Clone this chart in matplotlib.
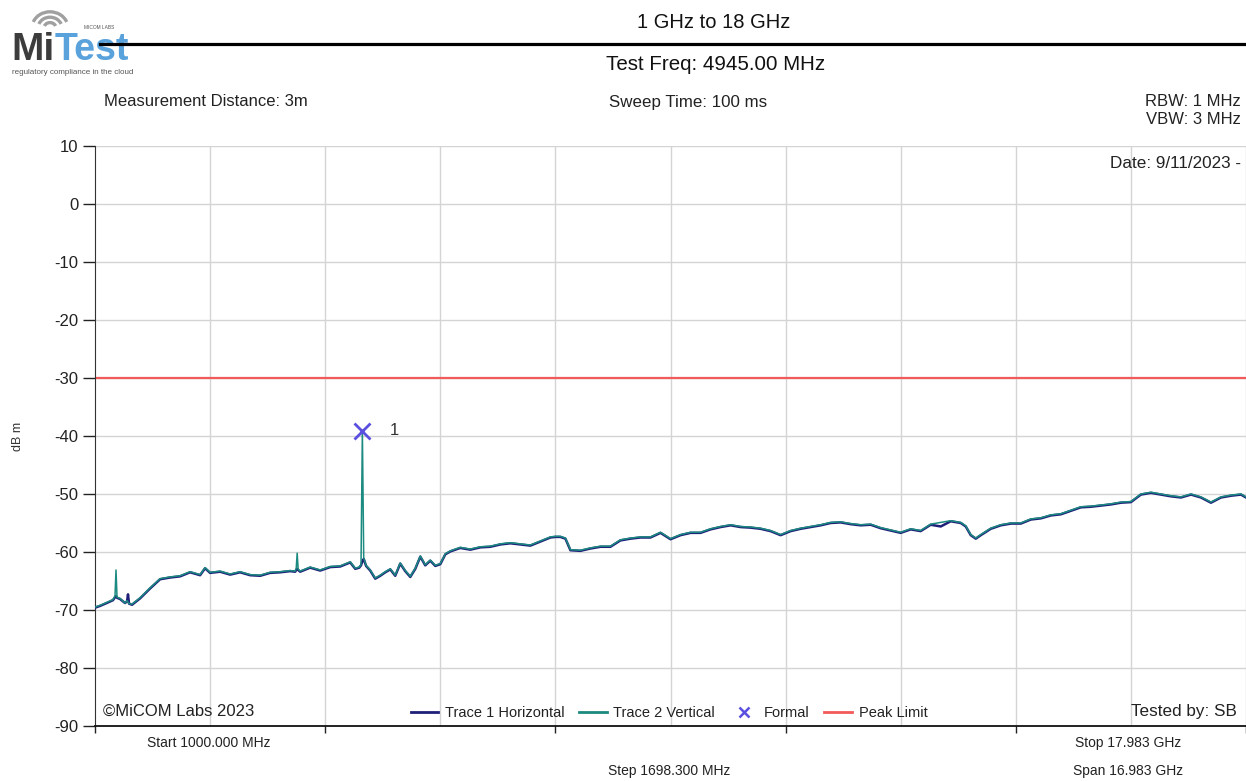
import matplotlib
matplotlib.use("Agg")
import matplotlib.pyplot as plt
from matplotlib.patches import Arc
from matplotlib.lines import Line2D

plt.rcParams['font.family'] = ['Liberation Sans', 'DejaVu Sans']

# ---------------- data ----------------
freq_mhz = [1000, 1074, 1192, 1266, 1295, 1310, 1325, 1369, 1443, 1473, 1487, 1502, 1546, 1665,
            1812, 1960, 2108, 2255, 2403, 2551, 2624, 2698, 2846, 2994, 3141, 3289, 3437, 3584,
            3732, 3880, 3954, 3969, 3983, 3998, 4027, 4175, 4323, 4471, 4618, 4766, 4840, 4899,
            4925, 4945, 4965, 5000, 5061, 5135, 5209, 5283, 5357, 5430, 5504, 5578, 5652, 5726,
            5800, 5873, 5947, 6021, 6095, 6169, 6243, 6316, 6390, 6538, 6686, 6833, 6981, 7129,
            7276, 7424, 7572, 7719, 7793, 7867, 7941, 8015, 8162, 8310, 8458, 8605, 8753, 8901,
            9049, 9196, 9344, 9492, 9639, 9787, 9935, 10082, 10230, 10378, 10525, 10673, 10821,
            10968, 11116, 11264, 11411, 11559, 11707, 11854, 12002, 12150, 12297, 12445, 12593,
            12740, 12888, 13036, 13183, 13331, 13479, 13626, 13774, 13848, 13922, 13996, 14070,
            14217, 14365, 14513, 14660, 14808, 14956, 15103, 15251, 15399, 15546, 15694, 15842,
            15989, 16137, 16285, 16432, 16580, 16728, 16875, 17023, 17171, 17318, 17466, 17614,
            17761, 17909, 17983]

trace2_vertical = [-69.5, -69.2, -68.6, -68.2, -67.6, -63.1, -67.8, -68.0, -68.8, -68.4, -68.6, -68.9,
                   -69.0, -67.9, -66.2, -64.6, -64.3, -64.1, -63.4, -63.9, -62.7, -63.5, -63.3, -63.8,
                   -63.4, -63.9, -64.0, -63.5, -63.4, -63.2, -63.3, -62.8, -60.2, -63.0, -63.3, -62.6,
                   -63.1, -62.5, -62.4, -61.7, -62.8, -62.6, -62.2, -39.1, -61.0, -62.3, -63.1, -64.5,
                   -64.0, -63.4, -62.9, -64.0, -61.9, -63.2, -64.2, -62.8, -60.7, -62.2, -61.4, -62.3,
                   -62.0, -60.3, -59.8, -59.5, -59.2, -59.5, -59.1, -59.0, -58.6, -58.4, -58.6, -58.8,
                   -58.1, -57.4, -57.3, -57.3, -57.6, -59.6, -59.7, -59.3, -59.0, -59.0, -57.9, -57.6,
                   -57.4, -57.4, -56.6, -57.7, -57.0, -56.6, -56.6, -56.0, -55.6, -55.3, -55.6, -55.7,
                   -55.9, -56.3, -57.0, -56.3, -55.9, -55.6, -55.3, -54.9, -54.8, -55.1, -55.3, -55.2,
                   -55.8, -56.2, -56.6, -56.0, -56.3, -55.2, -54.9, -54.6, -54.9, -55.5, -57.0, -57.6,
                   -57.0, -55.9, -55.3, -55.0, -55.0, -54.3, -54.1, -53.6, -53.4, -52.8, -52.2, -52.1,
                   -51.9, -51.7, -51.4, -51.3, -50.0, -49.7, -50.0, -50.3, -50.5, -50.0, -50.5, -51.4,
                   -50.5, -50.2, -50.0, -50.5]

trace1_horizontal = [-69.6, -69.3, -68.7, -68.3, -67.8, -67.6, -67.9, -68.1, -68.8, -68.5, -67.3, -68.9,
                     -69.1, -68.0, -66.3, -64.7, -64.4, -64.2, -63.5, -64.0, -62.8, -63.6, -63.4, -63.9,
                     -63.5, -64.0, -64.1, -63.6, -63.5, -63.3, -63.4, -63.1, -62.9, -63.1, -63.4, -62.7,
                     -63.2, -62.6, -62.5, -61.8, -62.9, -62.7, -62.3, -61.6, -61.2, -62.4, -63.2, -64.6,
                     -64.1, -63.5, -63.0, -64.1, -62.0, -63.3, -64.3, -62.9, -60.8, -62.3, -61.5, -62.4,
                     -62.1, -60.4, -59.9, -59.6, -59.3, -59.6, -59.2, -59.1, -58.7, -58.5, -58.7, -58.9,
                     -58.2, -57.5, -57.4, -57.4, -57.7, -59.7, -59.8, -59.4, -59.1, -59.1, -58.0, -57.7,
                     -57.5, -57.5, -56.7, -57.8, -57.1, -56.7, -56.7, -56.1, -55.7, -55.4, -55.7, -55.8,
                     -56.0, -56.4, -57.1, -56.4, -56.0, -55.7, -55.4, -55.0, -54.9, -55.2, -55.4, -55.3,
                     -55.9, -56.3, -56.7, -56.1, -56.4, -55.3, -55.6, -54.7, -55.0, -55.6, -57.1, -57.7,
                     -57.1, -56.0, -55.4, -55.1, -55.1, -54.4, -54.2, -53.7, -53.5, -52.9, -52.3, -52.2,
                     -52.0, -51.8, -51.5, -51.4, -50.1, -49.8, -50.1, -50.4, -50.6, -50.1, -50.6, -51.5,
                     -50.6, -50.3, -50.1, -50.6]

peak_limit_dbm = -30.0
marker_freq_mhz = 4945.0
marker_dbm = -39.1
marker_label = "1"

start_mhz = 1000.0
stop_mhz = 17983.0
step_mhz = 1698.3
y_ticks = [10, 0, -10, -20, -30, -40, -50, -60, -70, -80, -90]

# ---------------- figure ----------------
W, H = 1246, 781
fig = plt.figure(figsize=(W / 100, H / 100), dpi=100)

def fx(px):
    return px / W

def fy(py):
    return 1 - py / H

ax = fig.add_axes([fx(95), fy(726), fx(1151), (726 - 146) / H])
ax.set_xlim(start_mhz, stop_mhz)
ax.set_ylim(-90, 10)

grid_col = '#d4d4d4'
for k in range(1, 11):
    ax.axvline(start_mhz + k * step_mhz, color=grid_col, lw=1.0, zorder=0)
for yv in y_ticks:
    if yv != -90:
        ax.axhline(yv, color=grid_col, lw=1.0, zorder=0)

ax.set_yticks(y_ticks)
ax.set_yticklabels([str(v) for v in y_ticks], fontsize=12, color='#222222')
ax.set_xticks([start_mhz + k * 2 * step_mhz for k in range(6)])
ax.set_xticklabels([])
ax.tick_params(axis='y', direction='out', length=9, width=1, pad=3, colors='#222222')
ax.tick_params(axis='x', direction='out', length=5, width=1, colors='#222222')
for s in ['top', 'right']:
    ax.spines[s].set_visible(False)
ax.spines['left'].set_color('#333333')
ax.spines['bottom'].set_color('#111111')
ax.spines['bottom'].set_linewidth(1.3)

trace1_col = '#1f1f7a'
trace2_col = '#1b8a80'
limit_col = '#f25a5a'
marker_col = '#5b4fe0'

ax.axhline(peak_limit_dbm, color=limit_col, lw=1.6, zorder=2)
ax.plot(freq_mhz, trace1_horizontal, color=trace1_col, lw=1.8, zorder=3)
ax.plot(freq_mhz, trace2_vertical, color=trace2_col, lw=1.1, zorder=4)
ax.plot([marker_freq_mhz], [marker_dbm], marker='x', ms=11, mew=2.0, color=marker_col, zorder=5)
ax.annotate(marker_label, (marker_freq_mhz, marker_dbm), xytext=(20, 0), textcoords='offset points',
            fontsize=12, color='#333333', va='center')

ax.set_ylabel('dB m', fontsize=9, color='#333333')
ax.yaxis.set_label_coords(-0.062, 0.5)

ax.text(0.007, 0.012, '©MiCOM Labs 2023', transform=ax.transAxes, fontsize=12, color='#222222',
        ha='left', va='bottom')
ax.text(0.9925, 0.012, 'Tested by: SB', transform=ax.transAxes, fontsize=12.3, color='#222222',
        ha='right', va='bottom')
ax.text(0.9955, 0.982, 'Date: 9/11/2023 -', transform=ax.transAxes, fontsize=12.3, color='#222222',
        ha='right', va='top')

handles = [Line2D([], [], color=trace1_col, lw=2),
           Line2D([], [], color=trace2_col, lw=2),
           Line2D([], [], color=marker_col, lw=0, marker='x', ms=7, mew=1.8),
           Line2D([], [], color=limit_col, lw=2)]
labels = ['Trace 1 Horizontal', 'Trace 2 Vertical', 'Formal', 'Peak Limit']
leg = ax.legend(handles, labels, loc='lower center', bbox_to_anchor=(0.4987, -0.012), ncol=4,
                frameon=False, fontsize=10.5, handlelength=1.9, columnspacing=1.0, handletextpad=0.45,
                labelcolor='#222222')

# ---------------- header texts ----------------
fig.text(fx(714), fy(22), '1 GHz to 18 GHz', fontsize=14.5, ha='center', va='center', color='#111111')
fig.text(fx(716), fy(65), 'Test Freq: 4945.00 MHz', fontsize=14.8, ha='center', va='center', color='#111111')
fig.add_artist(Line2D([fx(100), fx(1246)], [fy(44), fy(44)], color='black', lw=2.3))
fig.text(fx(104), fy(102), 'Measurement Distance: 3m', fontsize=12, ha='left', va='center', color='#222222')
fig.text(fx(688), fy(102), 'Sweep Time: 100 ms', fontsize=12.2, ha='center', va='center', color='#222222')
fig.text(fx(1241), fy(101), 'RBW: 1 MHz', fontsize=12, ha='right', va='center', color='#222222')
fig.text(fx(1241), fy(120), 'VBW: 3 MHz', fontsize=12, ha='right', va='center', color='#222222')

# footer texts
fig.text(fx(209), fy(743), 'Start 1000.000 MHz', fontsize=10, ha='center', va='center', color='#222222')
fig.text(fx(669), fy(771), 'Step 1698.300 MHz', fontsize=10, ha='center', va='center', color='#222222')
fig.text(fx(1128), fy(743), 'Stop 17.983 GHz', fontsize=10, ha='center', va='center', color='#222222')
fig.text(fx(1128), fy(771), 'Span 16.983 GHz', fontsize=10, ha='center', va='center', color='#222222')

# ---------------- logo ----------------
lax = fig.add_axes([0, fy(80), fx(140), 80 / H])
lax.set_xlim(0, 140)
lax.set_ylim(80, 0)
lax.axis('off')
for r in [6, 12, 18]:
    lax.add_patch(Arc((50, 28), 2 * r, 2 * r * 0.9, theta1=200, theta2=340, color='#a0a0a0', lw=2.4))
lax.text(11, 60, 'Mi', fontsize=28, fontweight='bold', color='#3c3c3c', ha='left', va='baseline')
lax.text(55, 60, 'Test', fontsize=27, fontweight='bold', color='#5aa2dc', ha='left', va='baseline')
lax.text(84, 29, 'MICOM LABS', fontsize=3.5, color='#555555', ha='left', va='baseline')
lax.text(12, 74, 'regulatory compliance in the cloud', fontsize=5.8, color='#555555', ha='left', va='baseline')

fig.savefig('out.png', dpi=100)
